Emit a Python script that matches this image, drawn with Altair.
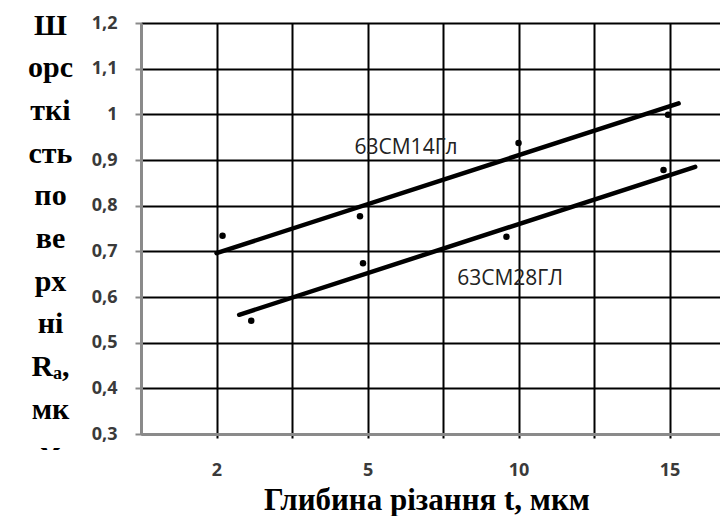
import altair as alt
import pandas as pd

# ---- data ----
series_names = ["63СМ14Гл", "63СМ28ГЛ"]
depth_labels = ["2", "5", "10", "15"]          # categories on the x axis (positions 1..4)
# measured points: position along the depth axis and roughness Ra
upper_pos = [1.04, 1.95, 3.00, 3.99]
upper_ra = [0.734, 0.777, 0.937, 0.999]
lower_pos = [1.23, 1.97, 2.92, 3.96]
lower_ra = [0.548, 0.674, 0.732, 0.878]
# trend lines (start / end)
upper_trend_pos = [1.00, 4.06]
upper_trend_ra = [0.696, 1.024]
lower_trend_pos = [1.15, 4.17]
lower_trend_ra = [0.561, 0.885]
# series label anchors
label_pos = [2.255, 2.944]
label_ra = [0.926, 0.639]
y_ticks = [0.3, 0.4, 0.5, 0.6, 0.7, 0.8, 0.9, 1.0, 1.1, 1.2]
x_grid = [1, 1.5, 2, 2.5, 3, 3.5, 4]

y_title = ["Ш", "орс", "ткі", "сть", "по", "ве", "рх", "ні", "Rₐ,", "мк", "м"]
x_title = "Глибина різання t, мкм"

points = pd.DataFrame({
    "pos": upper_pos + lower_pos,
    "ra": upper_ra + lower_ra,
    "series": [series_names[0]] * 4 + [series_names[1]] * 4,
})
trends = pd.DataFrame({
    "pos": upper_trend_pos + lower_trend_pos,
    "ra": upper_trend_ra + lower_trend_ra,
    "series": [series_names[0]] * 2 + [series_names[1]] * 2,
})
labels = pd.DataFrame({"pos": label_pos, "ra": label_ra, "name": series_names})

label_expr = " : ".join(
    f"datum.value == {i + 1} ? '{lab}'" for i, lab in enumerate(depth_labels)
) + " : ''"

x_scale = alt.Scale(domain=[0.5, 4.334], nice=False, zero=False)
y_scale = alt.Scale(domain=[0.3, 1.2], nice=False, zero=False)

x_axis = alt.Axis(
    values=x_grid, labelExpr=label_expr, grid=True, gridColor="#000000", gridWidth=2,
    domainColor="#8a8a8a", domainWidth=3, tickColor="#000000", tickWidth=2, tickSize=4,
    labelFont="Open Sans", labelFontWeight="bold", labelFontSize=18, labelColor="#3a3a3a",
    labelPadding=23, labelOverlap=False, labelFlush=False,
    title=x_title, titleFont="Liberation Serif", titleFontWeight="bold", titleFontSize=31,
    titleColor="#000000", titleAnchor="start", titleAlign="center", titleBaseline="alphabetic",
    titleX=285.5, titleY=75,
)
y_axis = alt.Axis(
    values=y_ticks, labelExpr="replace(format(datum.value, '.1~f'), '.', ',')",
    grid=True, gridColor="#000000", gridWidth=2,
    domainColor="#8a8a8a", domainWidth=3, tickColor="#8a8a8a", tickWidth=2, tickSize=6,
    labelFont="Open Sans", labelFontWeight="bold", labelFontSize=18, labelColor="#3a3a3a",
    labelPadding=18,
    title=y_title, titleFont="Liberation Serif", titleFontWeight="bold", titleFontSize=30,
    titleColor="#000000", titleAngle=0, titleAlign="center", titleBaseline="alphabetic",
    titleLineHeight=42.7, titleX=-91, titleY=11,
)

base_x = alt.X("pos:Q", scale=x_scale, axis=x_axis)
base_y = alt.Y("ra:Q", scale=y_scale, axis=y_axis)

lines = alt.Chart(trends).mark_line(color="#000000", strokeWidth=4.5, strokeCap="round").encode(
    x=base_x, y=base_y, detail="series:N"
)
dots = alt.Chart(points).mark_circle(color="#000000", size=42, opacity=1).encode(
    x=alt.X("pos:Q", scale=x_scale), y=alt.Y("ra:Q", scale=y_scale)
)
texts = alt.Chart(labels).mark_text(
    font="Open Sans", fontSize=21, color="#222222", align="center", baseline="middle"
).encode(x=alt.X("pos:Q", scale=x_scale), y=alt.Y("ra:Q", scale=y_scale), text="name:N")

# white band emulating the cropped last line of the vertical title
cover = alt.Chart(labels).mark_rect(color="#ffffff", clip=False).encode(
    x=alt.value(-141), x2=alt.value(-62), y=alt.value(427), y2=alt.value(470)
)

chart = alt.layer(lines, dots, texts, cover).properties(
    width=579, height=411,
    autosize=alt.AutoSizeParams(type="none"),
    padding={"left": 141, "top": 23, "right": 0, "bottom": 82},
).configure_view(stroke=None).configure(background="#ffffff")

chart.save("out.html", embed_options={"renderer": "svg", "actions": False})
